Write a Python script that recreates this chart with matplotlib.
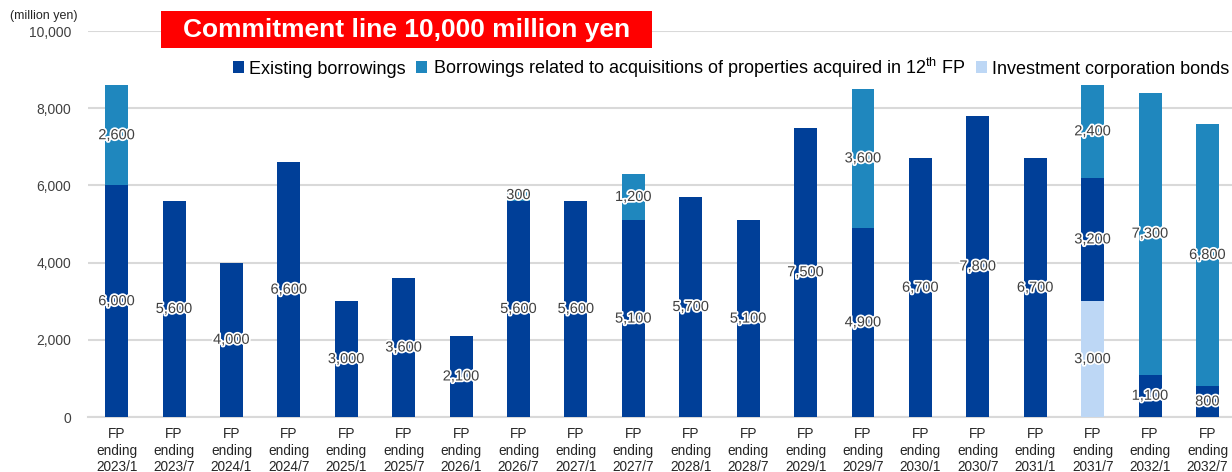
import matplotlib.pyplot as plt
import matplotlib.patheffects as pe
from matplotlib.patches import Rectangle, Patch
import numpy as np

plt.rcParams['font.family'] = ['Liberation Sans', 'DejaVu Sans']
plt.rcParams['mathtext.fontset'] = 'custom'
plt.rcParams['mathtext.rm'] = 'Liberation Sans'

periods = ['2023/1', '2023/7', '2024/1', '2024/7', '2025/1', '2025/7', '2026/1',
           '2026/7', '2027/1', '2027/7', '2028/1', '2028/7', '2029/1', '2029/7',
           '2030/1', '2030/7', '2031/1', '2031/7', '2032/1', '2032/7']
existing = [6000, 5600, 4000, 6600, 3000, 3600, 2100, 5600, 5600, 5100,
            5700, 5100, 7500, 4900, 6700, 7800, 6700, 3200, 1100, 800]
acquired = [2600, 0, 0, 0, 0, 0, 0, 300, 0, 1200,
            0, 0, 0, 3600, 0, 0, 0, 2400, 7300, 6800]
bonds = [0] * 17 + [3000, 0, 0]

labels = ['Existing borrowings',
          'Borrowings related to acquisitions of properties acquired in 12$^{\\mathrm{th}}$ FP',
          'Investment corporation bonds']
colors = ['#003f98', '#1f87be', '#bdd7f5']

fig = plt.figure(figsize=(12.32, 4.72), dpi=100)
ax = fig.add_axes([0.0714, 0.1165, 0.932, 0.8178])

x = np.arange(len(periods))
width = 0.4
halo = [pe.withStroke(linewidth=2.5, foreground='white')]

# stack order: bonds at the bottom, then existing, then new acquisitions
bottom = np.zeros(len(periods))
for vals, col in [(bonds, colors[2]), (existing, colors[0]), (acquired, colors[1])]:
    vals = np.array(vals, dtype=float)
    ax.bar(x, vals, width, bottom=bottom, color=col, zorder=3)
    for xi, v, b in zip(x, vals, bottom):
        if v > 0:
            ax.text(xi, b + v / 2, f'{int(v):,}', ha='center', va='center',
                    fontsize=10.5, color='#404040', path_effects=halo, zorder=5)
    bottom += vals

ax.set_xlim(-0.5, len(periods) - 0.5)
ax.set_ylim(0, 10000)
ax.set_yticks(range(0, 10001, 2000))
ax.set_yticklabels([f'{v:,}' for v in range(0, 10001, 2000)], fontsize=10, color='#404040')
ax.set_xticks(x)
ax.set_xticklabels([f'FP\nending\n{p}' for p in periods], fontsize=9.8,
                   color='#262626', linespacing=1.2)
ax.tick_params(axis='y', length=0, pad=12)
ax.tick_params(axis='x', length=0, pad=7.5)

ax.grid(axis='y', color='#d9d9d9', linewidth=1.5, zorder=0)
for s in ['top', 'right', 'left']:
    ax.spines[s].set_visible(False)
ax.spines['bottom'].set_color('#d9d9d9')
ax.spines['bottom'].set_linewidth(1.5)

fig.text(0.008, 0.966, '(million yen)', fontsize=9, color='#262626', va='center')

# red banner
fig.patches.append(Rectangle((0.1307, 0.8983), 0.3985, 0.0784, transform=fig.transFigure,
                             facecolor='#ff0000', edgecolor='none', zorder=4))
fig.text(0.33, 0.937, 'Commitment line 10,000 million yen', fontsize=19,
         fontweight='bold', color='white', ha='center', va='center', zorder=5)

handles = [Patch(facecolor=c) for c in colors]
ax.legend(handles, labels, ncol=3, frameon=False, fontsize=13,
          loc='center right', bbox_to_anchor=(0.998, 0.857), bbox_transform=fig.transFigure,
          handlelength=0.6, handleheight=0.6, handletextpad=0.3, columnspacing=0.6,
          borderpad=0, borderaxespad=0)

plt.savefig('out.png', dpi=100)
